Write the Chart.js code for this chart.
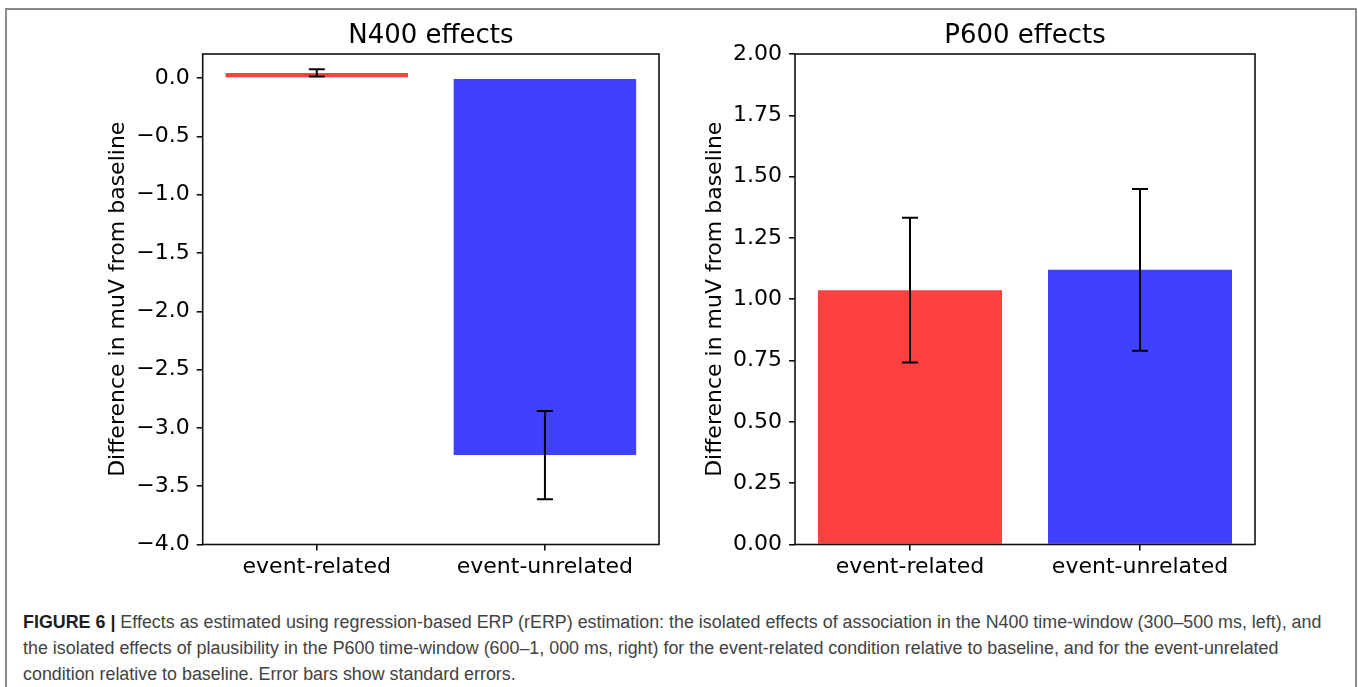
<!DOCTYPE html>
<html>
<head>
<meta charset="utf-8">
<script src="https://cdn.jsdelivr.net/npm/chart.js@4.4.1/dist/chart.umd.min.js"></script>
<style>
  html, body { margin: 0; padding: 0; background: #fff; }
  body { width: 1358px; height: 687px; position: relative; overflow: hidden; }
  #frame { position: absolute; left: 5px; top: 8px; width: 1348px; height: 700px;
           border: 2px solid #8a8a8a; border-bottom: none; }
  canvas { position: absolute; top: 0; }
  #c1 { left: 0; }
  #c2 { left: 600px; }
  #caption { position: absolute; left: 23px; top: 609px; font-family: "Liberation Sans", Arial, sans-serif;
             font-size: 18.8px; line-height: 25.8px; color: #424242; transform-origin: 0 0; white-space: nowrap; }
  #caption b { color: #1e1e1e; }
</style>
</head>
<body>
<div id="frame"></div>
<canvas id="c1" width="700" height="600"></canvas>
<canvas id="c2" width="700" height="600"></canvas>
<div id="caption">
  <div id="l1"><b>FIGURE 6 |</b> Effects as estimated using regression-based ERP (rERP) estimation: the isolated effects of association in the N400 time-window (300–500 ms, left), and</div>
  <div>the isolated effects of plausibility in the P600 time-window (600–1, 000 ms, right) for the event-related condition relative to baseline, and for the event-unrelated</div>
  <div>condition relative to baseline. Error bars show standard errors.</div>
</div>
<script>
// ---- data ----
const categories = ['event-related', 'event-unrelated'];
const barColors = ['rgba(255,0,0,0.75)', 'rgba(0,0,255,0.75)'];

const n400Title = 'N400 effects';
const n400Values = [0.045, -3.233];
const n400Errors = [0.032, 0.379];
const n400Ticks = [0.0, -0.5, -1.0, -1.5, -2.0, -2.5, -3.0, -3.5, -4.0];
const n400Range = [-4.0, 0.207];

const p600Title = 'P600 effects';
const p600Values = [1.037, 1.12];
const p600Errors = [0.295, 0.33];
const p600Ticks = [0.00, 0.25, 0.50, 0.75, 1.00, 1.25, 1.50, 1.75, 2.00];
const p600Range = [0.0, 2.0];

const yLabel = 'Difference in muV from baseline';

// ---- chart ----
Chart.defaults.font.family = '"DejaVu Sans", sans-serif';
Chart.defaults.color = '#000';

const errorBarPlugin = {
  id: 'errorBars',
  afterDatasetsDraw(chart, args, opts) {
    const ctx = chart.ctx;
    const xs = chart.scales.x, ys = chart.scales.y;
    ctx.save();
    ctx.strokeStyle = '#000';
    ctx.lineWidth = 2;
    opts.values.forEach((v, i) => {
      const e = opts.errors[i];
      const x = xs.getPixelForValue(i);
      const y1 = ys.getPixelForValue(v + e);
      const y2 = ys.getPixelForValue(v - e);
      ctx.beginPath();
      ctx.moveTo(x, y1); ctx.lineTo(x, y2);
      ctx.moveTo(x - 8, y1); ctx.lineTo(x + 8, y1);
      ctx.moveTo(x - 8, y2); ctx.lineTo(x + 8, y2);
      ctx.stroke();
    });
    ctx.restore();
  }
};

const framePlugin = {
  id: 'frameBox',
  afterDraw(chart) {
    const a = chart.chartArea, ctx = chart.ctx;
    ctx.save();
    ctx.strokeStyle = '#111';
    ctx.lineWidth = 1.6;
    ctx.strokeRect(a.left, a.top, a.right - a.left, a.bottom - a.top);
    ctx.restore();
  }
};

function makeChart(id, title, values, errors, ticks, range, decimals, yWidth, yTitlePad, rightPad) {
  return new Chart(document.getElementById(id), {
    type: 'bar',
    data: {
      labels: categories,
      datasets: [{ data: values, backgroundColor: barColors, borderWidth: 0,
                   categoryPercentage: 1.0, barPercentage: 0.8 }]
    },
    options: {
      responsive: false,
      animation: false,
      layout: { padding: { left: 0, right: rightPad, top: 0, bottom: 0 } },
      plugins: {
        legend: { display: false },
        tooltip: { enabled: false },
        title: { display: true, text: title, fullSize: false, color: '#000',
                 font: { size: 26, weight: 'normal' }, padding: { top: 20.9, bottom: 1.9 } },
        errorBars: { values: values, errors: errors }
      },
      scales: {
        x: {
          offset: true,
          grid: { display: true, offset: false, drawOnChartArea: false, drawTicks: true,
                  tickLength: 6, color: '#111', lineWidth: 1.6 },
          border: { display: false },
          ticks: { font: { size: 22 }, color: '#000', padding: 4, maxRotation: 0 },
          afterFit(s) { s.height = 55.5; }
        },
        y: {
          min: range[0], max: range[1],
          grid: { display: true, drawOnChartArea: false, drawTicks: true,
                  tickLength: 6, color: '#111', lineWidth: 1.6 },
          border: { display: false },
          ticks: {
            font: { size: 22 }, color: '#000', padding: 7,
            callback: (v) => (v < 0 ? '\u2212' : '') + Math.abs(v).toFixed(decimals)
          },
          afterBuildTicks(s) { s.ticks = ticks.map(v => ({ value: v })); },
          title: { display: true, text: yLabel, color: '#000', font: { size: 22 },
                   padding: { top: yTitlePad, bottom: 0 } },
          afterFit(s) { s.width = yWidth; }
        }
      }
    },
    plugins: [errorBarPlugin, framePlugin]
  });
}

makeChart('c1', n400Title, n400Values, n400Errors, n400Ticks, n400Range, 1, 202.7, 104.8, 41);
makeChart('c2', p600Title, p600Values, p600Errors, p600Ticks, p600Range, 2, 195, 101.8, 45);

// fit caption width to reference line width
const cap = document.getElementById('caption');
const l1 = document.getElementById('l1');
const w = l1.scrollWidth;
const sx = 1298 / w;
cap.style.transform = 'scaleX(' + sx + ')';
</script>
</body>
</html>
